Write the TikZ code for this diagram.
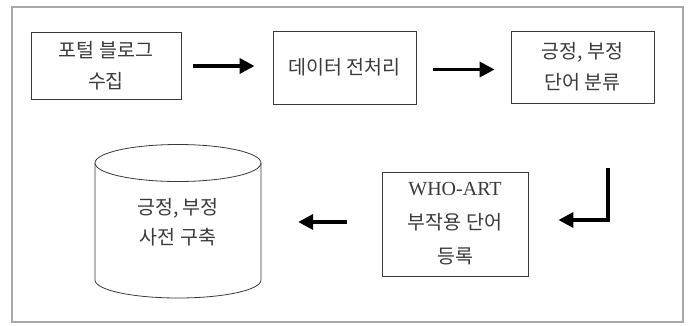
\documentclass[tikz,border=0pt]{standalone}
\usepackage{fontspec}
\setmainfont{Noto Sans CJK KR}
\newfontfamily\latinserif{Liberation Serif}
\usetikzlibrary{arrows.meta}
\definecolor{framegray}{HTML}{A8A8A8}
\definecolor{boxgray}{HTML}{3A3A3A}
\definecolor{txtgray}{HTML}{3A3A3A}
\tikzset{
  stepbox/.style={draw=boxgray, line width=0.9pt, align=center, inner sep=0pt,
    text=txtgray, font=\fontsize{19.5}{31}\selectfont},
  flowarrow/.style={line width=3.6pt, -{Triangle[length=15pt,width=15pt]}},
  cylline/.style={draw=boxgray, line width=0.8pt}
}
\begin{document}
\begin{tikzpicture}[x=1pt,y=-1pt]
\useasboundingbox (0,0) rectangle (691,325);
\fill[white] (0,0) rectangle (691,325);
\draw[framegray, line width=1.3pt] (12,7) rectangle (683,322);
% boxes
\node[stepbox, minimum width=150pt, minimum height=67pt] (b1) at (106,66) {포털 블로그\\수집};
\node[stepbox, minimum width=143pt, minimum height=73pt] (b2) at (344.5,67.5) {데이터 전처리};
\node[stepbox, minimum width=143pt, minimum height=72pt] (b3) at (582.5,67) {긍정, 부정\\단어 분류};
\node[stepbox, minimum width=146pt, minimum height=104pt, font=\fontsize{19.5}{34}\selectfont] (b4) at (455,224) {{\latinserif\fontsize{20}{34}\selectfont WHO-ART}\\부작용 단어\\등록};
% cylinder
\draw[cylline] (178,163) ellipse [x radius=83pt, y radius=18.5pt];
\draw[cylline] (95,163) -- (95,280) arc[start angle=180, end angle=360, x radius=83pt, y radius=18pt] -- (261,163);
\node[align=center, text=txtgray, font=\fontsize{19.5}{30}\selectfont, minimum width=166pt, minimum height=153pt, inner sep=0pt] (cyl) at (178,222) {긍정, 부정\\사전 구축};
% arrows
\draw[flowarrow, shorten <=12pt, shorten >=18pt] (b1.east) -- (b1.east -| b2.west);
\draw[flowarrow, shorten <=17pt, shorten >=16pt] ([yshift=-2pt]b2.east) -- ([yshift=-2pt]b2.east -| b3.west);
\coordinate (elb) at (608,168);
\draw[flowarrow] (elb) |- ([xshift=30pt,yshift=4pt]b4.east);
\draw[flowarrow, shorten <=35pt, shorten >=37pt] ([yshift=2pt]b4.west) -- ([yshift=2pt]b4.west -| cyl.east);
\end{tikzpicture}
\end{document}
